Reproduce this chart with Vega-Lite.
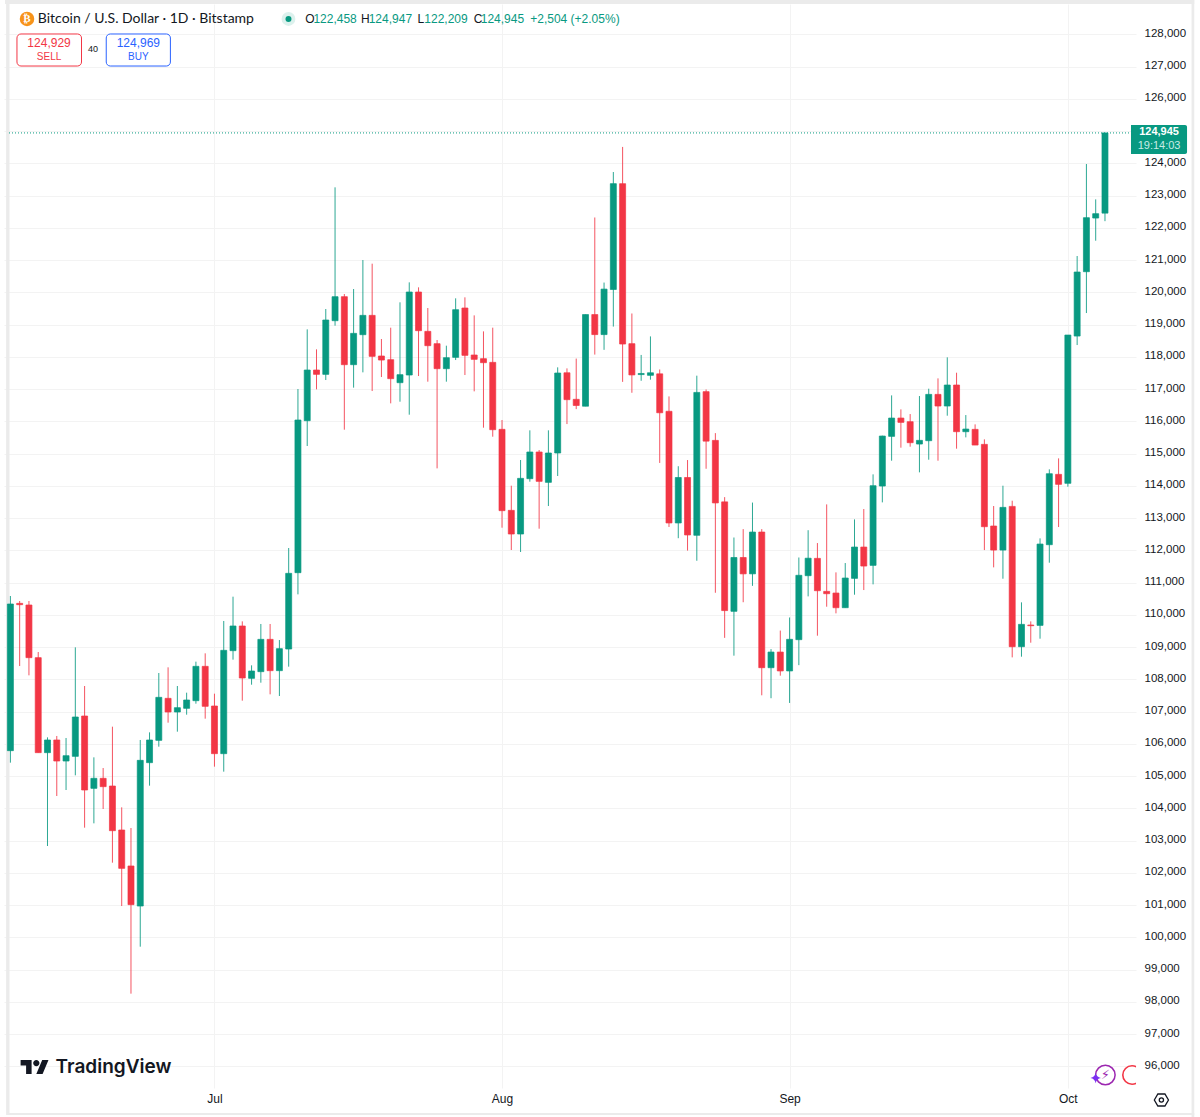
{"$schema":"https://vega.github.io/schema/vega-lite/v6.json","width":1132,"height":1084,"autosize":"none","padding":{"left":4,"top":4,"right":64,"bottom":29},"background":"#ffffff","view":{"stroke":null},"config":{"text":{"font":"Liberation Sans"},"axis":{"labelFont":"Liberation Sans"}},
"datasets":{
"candles":[
{"date":"2025-06-09","open":105790,"high":110586,"low":105418,"close":110338},
{"date":"2025-06-10","open":110358,"high":110431,"low":108415,"close":110317},
{"date":"2025-06-11","open":110307,"high":110431,"low":108126,"close":108674},
{"date":"2025-06-12","open":108674,"high":108849,"low":105728,"close":105728},
{"date":"2025-06-13","open":105728,"high":106203,"low":102834,"close":106121},
{"date":"2025-06-14","open":106121,"high":106245,"low":104384,"close":105469},
{"date":"2025-06-15","open":105469,"high":106183,"low":104570,"close":105635},
{"date":"2025-06-16","open":105614,"high":108994,"low":105025,"close":106834},
{"date":"2025-06-17","open":106865,"high":107795,"low":103402,"close":104570},
{"date":"2025-06-18","open":104622,"high":105583,"low":103537,"close":104932},
{"date":"2025-06-19","open":104932,"high":105252,"low":103981,"close":104674},
{"date":"2025-06-20","open":104694,"high":106534,"low":102317,"close":103309},
{"date":"2025-06-21","open":103330,"high":104033,"low":100973,"close":102141},
{"date":"2025-06-22","open":102214,"high":103392,"low":98255,"close":101015},
{"date":"2025-06-23","open":100973,"high":106121,"low":99712,"close":105490},
{"date":"2025-06-24","open":105418,"high":106358,"low":104705,"close":106121},
{"date":"2025-06-25","open":106110,"high":108198,"low":105914,"close":107444},
{"date":"2025-06-26","open":107413,"high":108374,"low":106658,"close":106989},
{"date":"2025-06-27","open":106989,"high":107795,"low":106379,"close":107123},
{"date":"2025-06-28","open":107103,"high":107588,"low":106906,"close":107361},
{"date":"2025-06-29","open":107340,"high":108550,"low":107247,"close":108405},
{"date":"2025-06-30","open":108405,"high":108808,"low":106782,"close":107165},
{"date":"2025-07-01","open":107175,"high":107557,"low":105294,"close":105697},
{"date":"2025-07-02","open":105697,"high":109811,"low":105139,"close":108901},
{"date":"2025-07-03","open":108891,"high":110565,"low":108612,"close":109656},
{"date":"2025-07-04","open":109656,"high":109800,"low":107340,"close":108043},
{"date":"2025-07-05","open":108033,"high":108436,"low":107836,"close":108260},
{"date":"2025-07-06","open":108240,"high":109718,"low":107898,"close":109242},
{"date":"2025-07-07","open":109242,"high":109718,"low":107537,"close":108271},
{"date":"2025-07-08","open":108271,"high":109221,"low":107485,"close":108953},
{"date":"2025-07-09","open":108942,"high":112074,"low":108395,"close":111289},
{"date":"2025-07-10","open":111309,"high":117004,"low":110637,"close":116043},
{"date":"2025-07-11","open":116022,"high":118854,"low":115237,"close":117593},
{"date":"2025-07-12","open":117593,"high":118234,"low":116994,"close":117459},
{"date":"2025-07-13","open":117459,"high":119485,"low":117283,"close":119144},
{"date":"2025-07-14","open":119123,"high":123258,"low":118968,"close":119867},
{"date":"2025-07-15","open":119867,"high":119950,"low":115743,"close":117759},
{"date":"2025-07-16","open":117759,"high":120105,"low":117046,"close":118730},
{"date":"2025-07-17","open":118689,"high":121004,"low":117521,"close":119288},
{"date":"2025-07-18","open":119288,"high":120891,"low":116942,"close":118017},
{"date":"2025-07-19","open":118028,"high":118555,"low":117376,"close":117903},
{"date":"2025-07-20","open":117914,"high":118906,"low":116560,"close":117325},
{"date":"2025-07-21","open":117201,"high":119692,"low":116611,"close":117449},
{"date":"2025-07-22","open":117438,"high":120312,"low":116208,"close":120012},
{"date":"2025-07-23","open":120012,"high":120157,"low":117407,"close":118813},
{"date":"2025-07-24","open":118792,"high":119516,"low":117232,"close":118348},
{"date":"2025-07-25","open":118410,"high":118524,"low":114544,"close":117635},
{"date":"2025-07-26","open":117635,"high":118348,"low":117232,"close":117976},
{"date":"2025-07-27","open":117986,"high":119816,"low":117903,"close":119464},
{"date":"2025-07-28","open":119516,"high":119847,"low":117438,"close":118048},
{"date":"2025-07-29","open":118059,"high":119288,"low":116932,"close":117924},
{"date":"2025-07-30","open":117945,"high":118792,"low":115805,"close":117821},
{"date":"2025-07-31","open":117831,"high":118906,"low":115526,"close":115743},
{"date":"2025-08-01","open":115754,"high":116043,"low":112704,"close":113232},
{"date":"2025-08-02","open":113242,"high":114007,"low":112012,"close":112508},
{"date":"2025-08-03","open":112508,"high":114803,"low":111950,"close":114234},
{"date":"2025-08-04","open":114224,"high":115723,"low":114131,"close":115051},
{"date":"2025-08-05","open":115051,"high":115113,"low":112673,"close":114141},
{"date":"2025-08-06","open":114110,"high":115723,"low":113376,"close":115020},
{"date":"2025-08-07","open":115020,"high":117676,"low":114307,"close":117500},
{"date":"2025-08-08","open":117508,"high":117644,"low":115918,"close":116674},
{"date":"2025-08-09","open":116685,"high":117948,"low":116381,"close":116494},
{"date":"2025-08-10","open":116471,"high":119313,"low":116471,"close":119313},
{"date":"2025-08-11","open":119313,"high":122323,"low":118072,"close":118692},
{"date":"2025-08-12","open":118692,"high":120305,"low":118219,"close":120102},
{"date":"2025-08-13","open":120091,"high":123733,"low":118940,"close":123372},
{"date":"2025-08-14","open":123372,"high":124511,"low":117226,"close":118399},
{"date":"2025-08-15","open":118410,"high":119346,"low":116888,"close":117441},
{"date":"2025-08-16","open":117452,"high":118061,"low":117260,"close":117486},
{"date":"2025-08-17","open":117429,"high":118636,"low":117294,"close":117508},
{"date":"2025-08-18","open":117475,"high":117610,"low":114712,"close":116268},
{"date":"2025-08-19","open":116313,"high":116775,"low":112727,"close":112851},
{"date":"2025-08-20","open":112851,"high":114610,"low":112378,"close":114261},
{"date":"2025-08-21","open":114261,"high":114802,"low":111994,"close":112479},
{"date":"2025-08-22","open":112468,"high":117418,"low":111679,"close":116899},
{"date":"2025-08-23","open":116922,"high":116990,"low":114531,"close":115388},
{"date":"2025-08-24","open":115411,"high":115637,"low":110686,"close":113472},
{"date":"2025-08-25","open":113505,"high":113652,"low":109288,"close":110134},
{"date":"2025-08-26","open":110111,"high":112400,"low":108736,"close":111780},
{"date":"2025-08-27","open":111780,"high":112660,"low":110393,"close":111273},
{"date":"2025-08-28","open":111273,"high":113483,"low":110901,"close":112569},
{"date":"2025-08-29","open":112569,"high":112660,"low":107507,"close":108363},
{"date":"2025-08-30","open":108363,"high":108939,"low":107416,"close":108848},
{"date":"2025-08-31","open":108848,"high":109514,"low":108115,"close":108262},
{"date":"2025-09-01","open":108262,"high":109920,"low":107270,"close":109243},
{"date":"2025-09-02","open":109232,"high":111780,"low":108442,"close":111228},
{"date":"2025-09-03","open":111216,"high":112626,"low":110574,"close":111758},
{"date":"2025-09-04","open":111753,"high":112228,"low":109355,"close":110750},
{"date":"2025-09-05","open":110730,"high":113427,"low":110254,"close":110657},
{"date":"2025-09-06","open":110678,"high":111319,"low":110048,"close":110223},
{"date":"2025-09-07","open":110223,"high":111608,"low":110223,"close":111143},
{"date":"2025-09-08","open":111133,"high":112962,"low":110626,"close":112104},
{"date":"2025-09-09","open":112104,"high":113283,"low":110771,"close":111515},
{"date":"2025-09-10","open":111536,"high":114358,"low":110947,"close":114006},
{"date":"2025-09-11","open":113996,"high":115557,"low":113489,"close":115546},
{"date":"2025-09-12","open":115536,"high":116807,"low":114781,"close":116104},
{"date":"2025-09-13","open":116104,"high":116373,"low":115185,"close":115970},
{"date":"2025-09-14","open":115991,"high":116228,"low":115216,"close":115340},
{"date":"2025-09-15","open":115298,"high":116787,"low":114420,"close":115412},
{"date":"2025-09-16","open":115402,"high":117014,"low":114812,"close":116838},
{"date":"2025-09-17","open":116838,"high":117334,"low":114781,"close":116477},
{"date":"2025-09-18","open":116477,"high":117986,"low":116177,"close":117128},
{"date":"2025-09-19","open":117128,"high":117510,"low":115154,"close":115681},
{"date":"2025-09-20","open":115681,"high":116197,"low":115505,"close":115763},
{"date":"2025-09-21","open":115753,"high":115908,"low":115267,"close":115267},
{"date":"2025-09-22","open":115288,"high":115443,"low":112011,"close":112735},
{"date":"2025-09-23","open":112756,"high":113376,"low":111474,"close":112011},
{"date":"2025-09-24","open":112011,"high":114006,"low":111122,"close":113334},
{"date":"2025-09-25","open":113365,"high":113541,"low":108683,"close":109014},
{"date":"2025-09-26","open":109014,"high":110389,"low":108704,"close":109707},
{"date":"2025-09-27","open":109686,"high":109799,"low":109138,"close":109665},
{"date":"2025-09-28","open":109675,"high":112373,"low":109262,"close":112197},
{"date":"2025-09-29","open":112177,"high":114513,"low":111619,"close":114378},
{"date":"2025-09-30","open":114358,"high":114854,"low":112725,"close":114048},
{"date":"2025-10-01","open":114079,"high":118678,"low":113975,"close":118678},
{"date":"2025-10-02","open":118647,"high":121128,"low":118368,"close":120632},
{"date":"2025-10-03","open":120642,"high":123981,"low":119360,"close":122317},
{"date":"2025-10-04","open":122306,"high":122885,"low":121603,"close":122441},
{"date":"2025-10-05","open":122458,"high":124947,"low":122209,"close":124945}
],
"strips":[
{"date":"2025-06-08T13:00:00Z","date2":"2025-06-08T21:40:00Z","price":129067,"price2":94555},
{"date":"2025-06-08T10:00:00Z","date2":"2025-10-14T15:00:00Z","price":129067,"price2":128943},
{"date":"2025-10-14T08:00:00Z","date2":"2025-10-14T15:00:00Z","price":129067,"price2":94431},
{"date":"2025-06-08T13:00:00Z","date2":"2025-10-14T15:00:00Z","price":94555,"price2":94493}
],
"last":[{"date":"2025-10-07T19:20:00Z","date2":"2025-10-13T20:20:00Z","price":125191,"price2":124292}],
"lastLine":[{"date":"2025-06-08T20:24:00Z","date2":"2025-10-07T19:21:00Z","price":124945}],
"lastValue":[{"date":"2025-10-10T20:00:00Z","price":124974,"label":"124,945"}],
"lastTimer":[{"date":"2025-10-10T20:00:00Z","price":124540,"label":"19:14:03"}],
"title":[{"date":"2025-06-11T23:00:00Z","price":128478,"label":"Bitcoin / U.S. Dollar · 1D · Bitstamp"}],
"ohlcLetters":[
{"date":"2025-07-10T19:00:00Z","price":128478,"label":"O"},
{"date":"2025-07-16T19:00:00Z","price":128478,"label":"H"},
{"date":"2025-07-22T21:00:00Z","price":128478,"label":"L"},
{"date":"2025-07-28T23:00:00Z","price":128478,"label":"C"}],
"ohlcValues":[
{"date":"2025-07-11T16:00:00Z","price":128478,"label":"122,458"},
{"date":"2025-07-17T15:00:00Z","price":128478,"label":"124,947"},
{"date":"2025-07-23T15:00:00Z","price":128478,"label":"122,209"},
{"date":"2025-07-29T17:00:00Z","price":128478,"label":"124,945"},
{"date":"2025-08-04T01:00:00Z","price":128478,"label":"+2,504 (+2.05%)"}],
"logoPoint":[{"date":"2025-06-10T19:00:00Z","price":128478,"label":"₿"}],
"statusPoint":[{"date":"2025-07-08T23:30:00Z","price":128478}],
"sellBox":[{"date":"2025-06-09T17:00:00Z","date2":"2025-06-16T16:00:00Z","price":128013,"price2":127020}],
"buyBox":[{"date":"2025-06-19T08:00:00Z","date2":"2025-06-26T06:00:00Z","price":128013,"price2":127020}],
"sellPrice":[{"date":"2025-06-13T04:00:00Z","price":127734,"label":"124,929"}],
"sellLabel":[{"date":"2025-06-13T04:00:00Z","price":127300,"label":"SELL"}],
"buyPrice":[{"date":"2025-06-22T19:00:00Z","price":127734,"label":"124,969"}],
"buyLabel":[{"date":"2025-06-22T19:00:00Z","price":127300,"label":"BUY"}],
"spread":[{"date":"2025-06-17T22:00:00Z","price":127548,"label":"40"}],
"tvLogo":[{"date":"2025-06-11T15:00:00Z","price":95981}],
"tvText":[{"date":"2025-06-13T21:00:00Z","price":95981,"label":"TradingView"}],
"boltRing":[{"date":"2025-10-05T01:00:00Z","price":95733,"label":"⚡"}],
"sparkle":[{"date":"2025-10-04T00:00:00Z","price":95640}],
"globe":[{"date":"2025-10-07T22:00:00Z","price":95733}],
"gear":[{"date":"2025-10-11T02:00:00Z","price":94958}]
},
"encoding":{
"x":{"field":"date","type":"temporal","scale":{"type":"utc","nice":false,"domain":["2025-06-08T20:24:00Z","2025-10-07T19:21:00Z"]},"axis":{"title":null,"values":["2025-07-01T00:00:00Z","2025-08-01T00:00:00Z","2025-09-01T00:00:00Z","2025-10-01T00:00:00Z"],"labelExpr":"utcFormat(datum.value,'%b')","grid":true,"gridColor":"#f3f3f3","gridWidth":1,"domain":false,"ticks":false,"labelPadding":5,"labelFontSize":12,"labelColor":"#131722","labelFont":"Liberation Sans","labelFlush":false}},
"y":{"field":"price","type":"quantitative","scale":{"domain":[95330,128943],"nice":false,"zero":false},"axis":{"title":null,"orient":"right","values":[96000,97000,98000,99000,100000,101000,102000,103000,104000,105000,106000,107000,108000,109000,110000,111000,112000,113000,114000,115000,116000,117000,118000,119000,120000,121000,122000,123000,124000,125000,126000,127000,128000],"labelExpr":"format(datum.value,',')","grid":true,"gridColor":"#f3f3f3","gridWidth":1,"domain":false,"ticks":false,"labelPadding":8,"labelFontSize":11.5,"labelColor":"#131722","labelFont":"Liberation Sans","labelOffset":-1,"labelOverlap":false}}
},
"layer":[
{"data":{"name":"strips"},"mark":{"type":"rect","fill":"#ebebeb"},"encoding":{"x2":{"field":"date2"},"y2":{"field":"price2"}}},
{"data":{"name":"lastLine"},"mark":{"type":"rule","stroke":"#089981","strokeWidth":1,"strokeDash":[1,2]},"encoding":{"x2":{"field":"date2"}}},
{"data":{"name":"candles"},"mark":{"type":"rule","strokeWidth":1,"clip":true,"opacity":0.85},"encoding":{"y":{"field":"low","type":"quantitative"},"y2":{"field":"high"},"color":{"condition":{"test":"datum.close>=datum.open","value":"#089981"},"value":"#f23645"}}},
{"data":{"name":"candles"},"mark":{"type":"bar","size":6,"strokeWidth":0.7,"clip":true},"encoding":{"y":{"field":"open","type":"quantitative"},"y2":{"field":"close"},"fill":{"condition":{"test":"datum.close>=datum.open","value":"#089981"},"value":"#f23645"},"stroke":{"condition":{"test":"datum.close>=datum.open","value":"#089981"},"value":"#f23645"}}},
{"data":{"name":"last"},"mark":{"type":"rect","fill":"#089981","cornerRadiusTopRight":2,"cornerRadiusBottomRight":2},"encoding":{"x2":{"field":"date2"},"y2":{"field":"price2"}}},
{"data":{"name":"lastValue"},"mark":{"type":"text","fontSize":11,"fontWeight":"bold","fill":"#ffffff"},"encoding":{"text":{"field":"label"}}},
{"data":{"name":"lastTimer"},"mark":{"type":"text","fontSize":11,"fill":"#c9ebe5"},"encoding":{"text":{"field":"label"}}},
{"data":{"name":"logoPoint"},"mark":{"type":"point","filled":true,"size":210,"fill":"#f7931a","opacity":1,"stroke":null}},
{"data":{"name":"logoPoint"},"mark":{"type":"text","fontSize":11,"fontWeight":"bold","fill":"#ffffff","font":"DejaVu Sans"},"encoding":{"text":{"field":"label"}}},
{"data":{"name":"title"},"mark":{"type":"text","align":"left","fontSize":14,"font":"Lato","fill":"#131722"},"encoding":{"text":{"field":"label"}}},
{"data":{"name":"statusPoint"},"mark":{"type":"point","filled":true,"size":190,"fill":"#dcf1ed","opacity":1,"stroke":null}},
{"data":{"name":"statusPoint"},"mark":{"type":"point","filled":true,"size":36,"fill":"#089981","opacity":1,"stroke":null}},
{"data":{"name":"ohlcLetters"},"mark":{"type":"text","align":"left","fontSize":12,"fill":"#131722"},"encoding":{"text":{"field":"label"}}},
{"data":{"name":"ohlcValues"},"mark":{"type":"text","align":"left","fontSize":12,"fill":"#089981"},"encoding":{"text":{"field":"label"}}},
{"data":{"name":"sellBox"},"mark":{"type":"rect","fill":"#ffffff","stroke":"#f23645","strokeWidth":1,"cornerRadius":4},"encoding":{"x2":{"field":"date2"},"y2":{"field":"price2"}}},
{"data":{"name":"buyBox"},"mark":{"type":"rect","fill":"#ffffff","stroke":"#2962ff","strokeWidth":1,"cornerRadius":4},"encoding":{"x2":{"field":"date2"},"y2":{"field":"price2"}}},
{"data":{"name":"sellPrice"},"mark":{"type":"text","fontSize":12,"fill":"#f23645"},"encoding":{"text":{"field":"label"}}},
{"data":{"name":"sellLabel"},"mark":{"type":"text","fontSize":10,"fill":"#f23645"},"encoding":{"text":{"field":"label"}}},
{"data":{"name":"buyPrice"},"mark":{"type":"text","fontSize":12,"fill":"#2962ff"},"encoding":{"text":{"field":"label"}}},
{"data":{"name":"buyLabel"},"mark":{"type":"text","fontSize":10,"fill":"#2962ff"},"encoding":{"text":{"field":"label"}}},
{"data":{"name":"spread"},"mark":{"type":"text","fontSize":9,"fill":"#131722"},"encoding":{"text":{"field":"label"}}},
{"data":{"name":"tvLogo"},"mark":{"type":"point","filled":true,"size":800,"fill":"#131722","opacity":1,"stroke":null,"shape":"M-0.222,0.5H-0.611V-0.111H-1V-0.5H-0.222ZM0.556,0.5H0.111L0.528,-0.5H0.972ZM-0.111,-0.278a0.222,0.222 0 1,0 0.444,0a0.222,0.222 0 1,0 -0.444,0Z"}},
{"data":{"name":"tvText"},"mark":{"type":"text","align":"left","fontSize":19,"fontWeight":600,"font":"Inter","fill":"#131722"},"encoding":{"text":{"field":"label"}}},
{"data":{"name":"boltRing"},"mark":{"type":"point","size":380,"fill":"#ffffff","filled":false,"stroke":"#9c27b0","strokeWidth":1.5,"opacity":1}},
{"data":{"name":"boltRing"},"mark":{"type":"text","fontSize":13,"fill":"#9c27b0","font":"DejaVu Sans"},"encoding":{"text":{"field":"label"}}},
{"data":{"name":"sparkle"},"mark":{"type":"point","filled":true,"size":110,"fill":"#7b2ff2","opacity":1,"stroke":null,"shape":"M0,-1Q0.15,-0.15 1,0Q0.15,0.15 0,1Q-0.15,0.15 -1,0Q-0.15,-0.15 0,-1Z"}},
{"data":{"name":"globe"},"mark":{"type":"point","size":340,"filled":true,"fill":"#ffffff","stroke":"#f23645","strokeWidth":1.6,"opacity":1,"clip":true}},
{"data":{"name":"gear"},"mark":{"type":"point","size":200,"filled":false,"stroke":"#131722","strokeWidth":1.3,"opacity":1,"shape":"M-1,0L-0.5,-0.85L0.5,-0.85L1,0L0.5,0.85L-0.5,0.85Z"}},
{"data":{"name":"gear"},"mark":{"type":"point","size":18,"filled":false,"stroke":"#131722","strokeWidth":1.3,"opacity":1}}
]
}
